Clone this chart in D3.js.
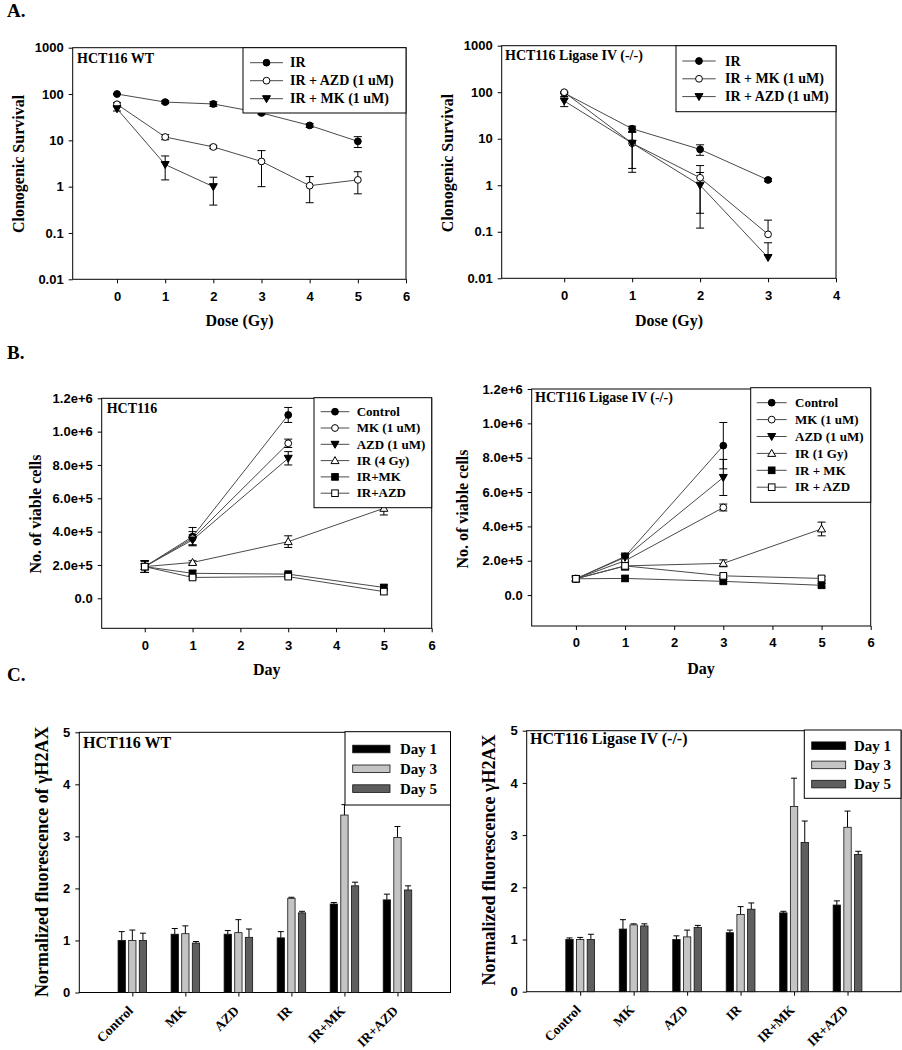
<!DOCTYPE html>
<html><head><meta charset="utf-8">
<script src="https://cdn.jsdelivr.net/npm/d3@7"></script>
<style>body{margin:0;background:#fff}</style>
</head><body>
<svg id="c" width="902" height="1050" xmlns="http://www.w3.org/2000/svg"></svg>
<script>
// ---------------- DATA ----------------
// Panel A (clonogenic survival, log scale)
const aTickVals = [0.01, 0.1, 1, 10, 100, 1000];
const aTickLabels = ["0.01", "0.1", "1", "10", "100", "1000"];
const doseWT = [0, 1, 2, 3, 4, 5];
const wtIR = [100, 67, 61, 39, 21, 9.5];
const wtIRerr = [3, 5, 7, 3, 2, 2.5];
const wtAZD = [60, 11.8, 7.2, 3.5, 1.05, 1.4];
const wtAZDerr = [5, 1.5, 0.6, 2.5, 0.6, 0.7];
const wtMK = [48, 3.0, 1.0, null, null, null];
const wtMKerr = [5, 1.6, 0.6, null, null, null];
const doseLig = [0, 1, 2, 3];
const ligIR = [96, 16.4, 5.9, 1.3];
const ligIRerr = [3, 2.2, 1.5, 0.1];
const ligMK = [100, 8, 1.45, 0.088];
const ligMKerr = [3, 5.7, 1.2, 0.09];
const ligAZD = [65, 8, 1.0, 0.028];
const ligAZDerr = [16, 6.1, 0.88, 0.03];

// Panel B (viable cells)
const bTickVals = [0, 2e5, 4e5, 6e5, 8e5, 1e6, 1.2e6];
const bTickLabels = ["0.0", "2.0e+5", "4.0e+5", "6.0e+5", "8.0e+5", "1.0e+6", "1.2e+6"];
const days = [0, 1, 3, 5];
const wtControl = [1.9e5, 3.7e5, 1.1e6, null];
const wtControlErr = [0.35e5, 0.55e5, 0.45e5, null];
const wtMKb = [1.9e5, 3.6e5, 9.3e5, null];
const wtMKbErr = [0.35e5, 0.4e5, 0.25e5, null];
const wtAZDb = [1.9e5, 3.5e5, 8.4e5, null];
const wtAZDbErr = [0.35e5, 0.3e5, 0.4e5, null];
const wtIR4 = [1.9e5, 2.15e5, 3.4e5, 5.4e5];
const wtIR4Err = [0.35e5, 0.1e5, 0.35e5, 0.4e5];
const wtIRMK = [1.9e5, 1.5e5, 1.45e5, 0.65e5];
const wtIRMKErr = [0.35e5, 0.15e5, 0.1e5, 0.15e5];
const wtIRAZD = [1.9e5, 1.25e5, 1.3e5, 0.4e5];
const wtIRAZDErr = [0.35e5, 0.1e5, 0.1e5, 0.15e5];

const ligControl = [0.95e5, 2.25e5, 8.7e5, null];
const ligControlErr = [0.1e5, 0.2e5, 1.35e5, null];
const ligMKb = [0.95e5, 2.0e5, 5.1e5, null];
const ligMKbErr = [0.1e5, 0.2e5, 0.2e5, null];
const ligAZDb = [0.95e5, 2.2e5, 6.85e5, null];
const ligAZDbErr = [0.1e5, 0.2e5, 1.05e5, null];
const ligIR1 = [0.95e5, 1.7e5, 1.85e5, 3.85e5];
const ligIR1Err = [0.1e5, 0.2e5, 0.2e5, 0.4e5];
const ligIRMK = [0.95e5, 0.97e5, 0.8e5, 0.57e5];
const ligIRMKErr = [0.1e5, 0.15e5, 0.1e5, 0.1e5];
const ligIRAZD = [0.95e5, 1.7e5, 1.12e5, 0.97e5];
const ligIRAZDErr = [0.1e5, 0.25e5, 0.1e5, 0.1e5];

// Panel C (gamma-H2AX)
const cCategories = ["Control", "MK", "AZD", "IR", "IR+MK", "IR+AZD"];
const cGroups = ["Day 1", "Day 3", "Day 5"];
const cTickVals = [0, 1, 2, 3, 4, 5];
const wtDay1 = [1.0, 1.12, 1.12, 1.05, 1.70, 1.78];
const wtDay1Err = [0.17, 0.11, 0.07, 0.12, 0.03, 0.11];
const wtDay3 = [1.0, 1.13, 1.15, 1.81, 3.41, 2.98];
const wtDay3Err = [0.2, 0.15, 0.25, 0.02, 0.2, 0.21];
const wtDay5 = [1.0, 0.95, 1.06, 1.53, 2.05, 1.97];
const wtDay5Err = [0.14, 0.03, 0.16, 0.03, 0.07, 0.08];
const ligDay1 = [1.0, 1.2, 1.0, 1.13, 1.51, 1.66];
const ligDay1Err = [0.03, 0.18, 0.07, 0.05, 0.03, 0.08];
const ligDay3 = [1.0, 1.28, 1.05, 1.48, 3.55, 3.15];
const ligDay3Err = [0.04, 0.02, 0.13, 0.15, 0.54, 0.31];
const ligDay5 = [1.0, 1.26, 1.23, 1.58, 2.86, 2.63];
const ligDay5Err = [0.1, 0.04, 0.04, 0.12, 0.41, 0.06];

// ---------------- DRAWING ----------------
const serif = "'Liberation Serif','Times New Roman',serif";
const sans = "'Liberation Sans',Arial,sans-serif";
const svg = d3.select("#c");
const LINE = "#4a4a4a";

function txt(x, y, s, size, opts = {}) {
  const t = svg.append("text").attr("x", x).attr("y", y).text(s)
    .attr("font-family", opts.family || serif)
    .attr("font-weight", "bold").attr("font-size", size).attr("fill", "#000");
  if (opts.anchor) t.attr("text-anchor", opts.anchor);
  if (opts.rotate) t.attr("transform", `rotate(${opts.rotate},${x},${y})`);
  if (opts.baseline) t.attr("dominant-baseline", opts.baseline);
  return t;
}

function marker(g, type, x, y) {
  const filled = ["circle", "tridown", "square"].includes(type);
  const fill = filled ? "#000" : "#fff";
  let el;
  if (type === "circle" || type === "ocircle") {
    el = g.append("circle").attr("cx", x).attr("cy", y).attr("r", 3.4);
  } else if (type === "square" || type === "osquare") {
    el = g.append("rect").attr("x", x - 3.3).attr("y", y - 3.3).attr("width", 6.6).attr("height", 6.6);
  } else if (type === "tridown") {
    el = g.append("path").attr("d", `M${x-4},${y-3}L${x+4},${y-3}L${x},${y+4}Z`);
  } else {
    el = g.append("path").attr("d", `M${x-4},${y+3}L${x+4},${y+3}L${x},${y-4}Z`);
  }
  el.attr("fill", fill).attr("stroke", "#000").attr("stroke-width", 1);
}

function styleAxis(g) {
  g.select(".domain").remove();
  g.selectAll(".tick line").attr("stroke", "#000").attr("stroke-width", 1);
  g.selectAll(".tick text").attr("font-family", sans).attr("font-weight", "bold")
    .attr("font-size", 13).attr("fill", "#000");
}

function linePanel(cfg) {
  const x = d3.scaleLinear().domain(cfg.xDomain).range([cfg.x0, cfg.x1]);
  const y = (cfg.log ? d3.scaleLog() : d3.scaleLinear()).domain(cfg.yDomain).range([cfg.y1, cfg.y0]);
  svg.append("rect").attr("x", cfg.x0).attr("y", cfg.y0).attr("width", cfg.x1 - cfg.x0)
    .attr("height", cfg.y1 - cfg.y0).attr("fill", "none").attr("stroke", "#000").attr("stroke-width", 1);
  svg.append("g").attr("transform", `translate(${cfg.x0},0)`)
    .call(d3.axisLeft(y).tickValues(cfg.yTicks).tickFormat((d, i) => cfg.yLabels[i]).tickSize(4).tickPadding(5))
    .call(styleAxis);
  svg.append("g").attr("transform", `translate(0,${cfg.y1})`)
    .call(d3.axisBottom(x).tickValues(cfg.xTicks).tickFormat(d3.format("d")).tickSize(4).tickPadding(8))
    .call(styleAxis);
  const g = svg.append("g");
  const ptsOf = s => cfg.xs.map((xv, i) => ({ x: xv, v: s.values[i], e: s.err[i] })).filter(p => p.v != null);
  cfg.series.forEach(s => {
    g.append("path").datum(ptsOf(s))
      .attr("d", d3.line().x(p => x(p.x)).y(p => y(p.v)))
      .attr("fill", "none").attr("stroke", LINE).attr("stroke-width", 1);
  });
  cfg.series.forEach(s => {
    ptsOf(s).forEach(p => {
      if (!p.e) return;
      const cx = x(p.x);
      const hi = y(p.v + p.e);
      const lowVal = p.v - p.e;
      const noLow = cfg.log && lowVal <= 0;
      const lo = noLow ? y(p.v) : y(lowVal);
      g.append("line").attr("x1", cx).attr("x2", cx).attr("y1", hi).attr("y2", lo)
        .attr("stroke", "#000").attr("stroke-width", 1);
      g.append("line").attr("x1", cx - 4).attr("x2", cx + 4).attr("y1", hi).attr("y2", hi)
        .attr("stroke", "#000").attr("stroke-width", 1);
      if (!noLow)
        g.append("line").attr("x1", cx - 4).attr("x2", cx + 4).attr("y1", lo).attr("y2", lo)
          .attr("stroke", "#000").attr("stroke-width", 1);
    });
  });
  cfg.series.forEach(s => {
    cfg.xs.forEach((xv, i) => { if (s.values[i] != null) marker(g, s.marker, x(xv), y(s.values[i])); });
  });
  const L = cfg.legend;
  svg.append("rect").attr("x", L.x0).attr("y", L.y0).attr("width", L.x1 - L.x0).attr("height", L.y1 - L.y0)
    .attr("fill", "#fff").attr("stroke", "#000").attr("stroke-width", 1);
  const lg = svg.append("g");
  cfg.series.forEach((s, i) => {
    const ly = L.y0 + L.off + i * L.step;
    lg.append("line").attr("x1", L.x0 + L.l0).attr("x2", L.x0 + L.l1).attr("y1", ly).attr("y2", ly)
      .attr("stroke", LINE).attr("stroke-width", 1);
    marker(lg, s.marker, L.x0 + (L.l0 + L.l1) / 2, ly);
    txt(L.x0 + L.tx, ly + L.fs * 0.33, s.name, L.fs);
  });
}

function barPanel(cfg) {
  const x = d3.scaleLinear().domain([-1, 6]).range([cfg.x0, cfg.x1]);
  const y = d3.scaleLinear().domain([0, 5]).range([cfg.y1, cfg.y0]);
  svg.append("rect").attr("x", cfg.x0).attr("y", cfg.y0).attr("width", cfg.x1 - cfg.x0)
    .attr("height", cfg.y1 - cfg.y0).attr("fill", "none").attr("stroke", "#000").attr("stroke-width", 1);
  svg.append("g").attr("transform", `translate(${cfg.x0},0)`)
    .call(d3.axisLeft(y).tickValues(cTickVals).tickFormat(d3.format("d")).tickSize(4).tickPadding(5))
    .call(styleAxis);
  svg.append("g").attr("transform", `translate(0,${cfg.y1})`)
    .call(d3.axisBottom(x).tickValues(d3.range(cCategories.length)).tickFormat("").tickSize(4))
    .call(styleAxis);
  cCategories.forEach((c, i) => {
    txt(x(i) + 1.5, cfg.y1 + 19, c, 13.5, { anchor: "end", rotate: -45 });
  });
  const colors = ["#000000", "#c4c4c4", "#5e5e5e"];
  const offs = [-0.2, 0, 0.2];
  const bw = 0.138;
  const g = svg.append("g");
  cfg.groups.forEach((grp, gi) => {
    grp.values.forEach((v, i) => {
      const cx = x(i + offs[gi]);
      const w = x(bw) - x(0);
      const top = y(v + grp.err[i]);
      g.append("line").attr("x1", cx).attr("x2", cx).attr("y1", y(v)).attr("y2", top)
        .attr("stroke", "#000").attr("stroke-width", 1);
      g.append("line").attr("x1", cx - 3).attr("x2", cx + 3).attr("y1", top).attr("y2", top)
        .attr("stroke", "#000").attr("stroke-width", 1);
      g.append("rect").attr("x", cx - w / 2).attr("y", y(v)).attr("width", w).attr("height", y(0) - y(v))
        .attr("fill", colors[gi]).attr("stroke", "#111").attr("stroke-width", 0.8);
    });
  });
  const L = cfg.legend;
  svg.append("rect").attr("x", L.x0).attr("y", L.y0).attr("width", L.x1 - L.x0).attr("height", L.y1 - L.y0)
    .attr("fill", "#fff").attr("stroke", "#000").attr("stroke-width", 1);
  cGroups.forEach((name, gi) => {
    const ly = L.y0 + L.off + gi * L.step;
    svg.append("rect").attr("x", L.x0 + L.s0).attr("y", ly - 3.8).attr("width", L.s1 - L.s0).attr("height", 7.6)
      .attr("fill", colors[gi]).attr("stroke", "#111").attr("stroke-width", 0.8);
    txt(L.x0 + L.tx, ly + 5, name, 15);
  });
  txt(cfg.titleX, cfg.titleY, cfg.title, 16);
  txt(cfg.ylabX, cfg.ylabY, cfg.ylab, 18, { anchor: "middle", rotate: -90, baseline: "central" });
}

// Panel letters
txt(7, 17, "A.", 19);
txt(7, 359, "B.", 19);
txt(7, 681, "C.", 19);

// A left
linePanel({
  x0: 72.7, x1: 406, y0: 47.7, y1: 279.3, xDomain: [-0.92, 6], yDomain: [0.01, 1000], log: true,
  yTicks: aTickVals, yLabels: aTickLabels, xTicks: [0, 1, 2, 3, 4, 5, 6], xs: doseWT,
  series: [
    { name: "IR", values: wtIR, err: wtIRerr, marker: "circle" },
    { name: "IR + AZD (1 uM)", values: wtAZD, err: wtAZDerr, marker: "ocircle" },
    { name: "IR + MK (1 uM)", values: wtMK, err: wtMKerr, marker: "tridown" }
  ],
  legend: { x0: 243, x1: 406, y0: 47.7, y1: 113, off: 15, step: 18, l0: 7, l1: 40, tx: 47, fs: 14 }
});
txt(77, 62.7, "HCT116 WT", 14);
txt(18.5, 164, "Clonogenic Survival", 16, { anchor: "middle", rotate: -90, baseline: "central" });
txt(239.5, 326, "Dose (Gy)", 16, { anchor: "middle" });

// A right
linePanel({
  x0: 501.7, x1: 836, y0: 45.7, y1: 278.3, xDomain: [-0.92, 4], yDomain: [0.01, 1000], log: true,
  yTicks: aTickVals, yLabels: aTickLabels, xTicks: [0, 1, 2, 3, 4], xs: doseLig,
  series: [
    { name: "IR", values: ligIR, err: ligIRerr, marker: "circle" },
    { name: "IR + MK (1 uM)", values: ligMK, err: ligMKerr, marker: "ocircle" },
    { name: "IR + AZD (1 uM)", values: ligAZD, err: ligAZDerr, marker: "tridown" }
  ],
  legend: { x0: 676, x1: 836, y0: 45.7, y1: 111.7, off: 15.3, step: 17.8, l0: 6.3, l1: 39.7, tx: 49, fs: 14 }
});
txt(505, 59.5, "HCT116 Ligase IV (-/-)", 14);
txt(447, 163, "Clonogenic Survival", 16, { anchor: "middle", rotate: -90, baseline: "central" });
txt(669, 326, "Dose (Gy)", 16, { anchor: "middle" });

// B left
linePanel({
  x0: 101.7, x1: 431.7, y0: 398.3, y1: 628.3, xDomain: [-0.9, 6], yDomain: [-1.8e5, 1.2e6], log: false,
  yTicks: bTickVals, yLabels: bTickLabels, xTicks: [0, 1, 2, 3, 4, 5, 6], xs: days,
  series: [
    { name: "Control", values: wtControl, err: wtControlErr, marker: "circle" },
    { name: "MK (1 uM)", values: wtMKb, err: wtMKbErr, marker: "ocircle" },
    { name: "AZD (1 uM)", values: wtAZDb, err: wtAZDbErr, marker: "tridown" },
    { name: "IR (4 Gy)", values: wtIR4, err: wtIR4Err, marker: "triup" },
    { name: "IR+MK", values: wtIRMK, err: wtIRMKErr, marker: "square" },
    { name: "IR+AZD", values: wtIRAZD, err: wtIRAZDErr, marker: "osquare" }
  ],
  legend: { x0: 314, x1: 431.7, y0: 397.7, y1: 507.7, off: 14, step: 16.3, l0: 6.7, l1: 35.3, tx: 42.7, fs: 13 }
});
txt(106.7, 413, "HCT116", 14);
txt(35.5, 514, "No. of viable cells", 16, { anchor: "middle", rotate: -90, baseline: "central" });
txt(266.7, 675, "Day", 16, { anchor: "middle" });

// B right
linePanel({
  x0: 531.7, x1: 870.7, y0: 389, y1: 626, xDomain: [-0.9, 6], yDomain: [-1.8e5, 1.2e6], log: false,
  yTicks: bTickVals, yLabels: bTickLabels, xTicks: [0, 1, 2, 3, 4, 5, 6], xs: days,
  series: [
    { name: "Control", values: ligControl, err: ligControlErr, marker: "circle" },
    { name: "MK (1 uM)", values: ligMKb, err: ligMKbErr, marker: "ocircle" },
    { name: "AZD (1 uM)", values: ligAZDb, err: ligAZDbErr, marker: "tridown" },
    { name: "IR (1 Gy)", values: ligIR1, err: ligIR1Err, marker: "triup" },
    { name: "IR + MK", values: ligIRMK, err: ligIRMKErr, marker: "square" },
    { name: "IR + AZD", values: ligIRAZD, err: ligIRAZDErr, marker: "osquare" }
  ],
  legend: { x0: 750.7, x1: 870.7, y0: 387.7, y1: 502.3, off: 15, step: 16.9, l0: 6, l1: 36, tx: 44.3, fs: 13 }
});
txt(535, 402, "HCT116 Ligase IV (-/-)", 14);
txt(462.5, 509, "No. of viable cells", 16, { anchor: "middle", rotate: -90, baseline: "central" });
txt(701, 674, "Day", 16, { anchor: "middle" });

// C left
barPanel({
  x0: 79.3, x1: 450.5, y0: 732.3, y1: 992.5,
  groups: [{ values: wtDay1, err: wtDay1Err }, { values: wtDay3, err: wtDay3Err }, { values: wtDay5, err: wtDay5Err }],
  legend: { x0: 345, x1: 450.5, y0: 731.7, y1: 805, off: 17.3, step: 19.8, s0: 7.7, s1: 45, tx: 55 },
  title: "HCT116 WT", titleX: 83, titleY: 748,
  ylab: "Normalized fluorescence of γH2AX", ylabX: 42, ylabY: 861.7
});
// C right
barPanel({
  x0: 526.7, x1: 901, y0: 730.7, y1: 991.7,
  groups: [{ values: ligDay1, err: ligDay1Err }, { values: ligDay3, err: ligDay3Err }, { values: ligDay5, err: ligDay5Err }],
  legend: { x0: 804.3, x1: 901, y0: 730, y1: 798.3, off: 15.7, step: 19.2, s0: 7.4, s1: 41.4, tx: 49.7 },
  title: "HCT116 Ligase IV (-/-)", titleX: 530, titleY: 744,
  ylab: "Normalized fluorescence γH2AX", ylabX: 488.5, ylabY: 860
});
</script>
</body></html>
